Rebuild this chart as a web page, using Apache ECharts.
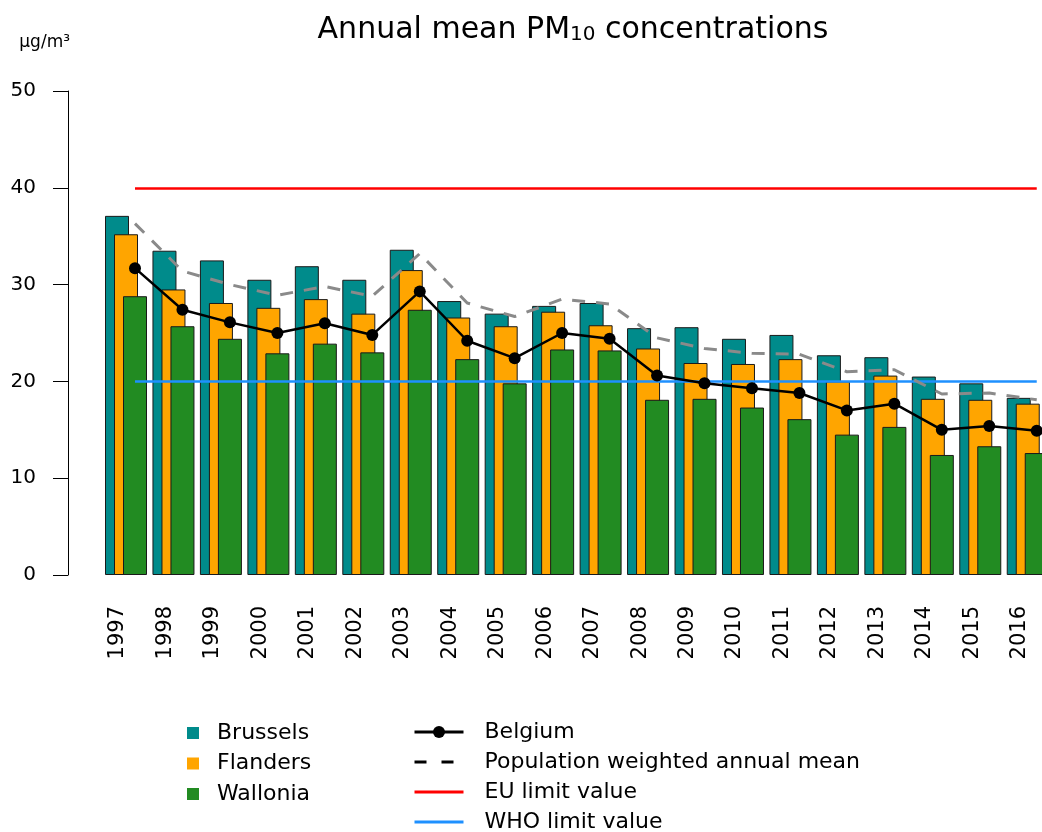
<!DOCTYPE html>
<html>
<head>
<meta charset="utf-8">
<title>Annual mean PM10 concentrations</title>
<script src="https://cdn.jsdelivr.net/npm/echarts@6/dist/echarts.min.js"></script>
<style>
  html, body { margin: 0; padding: 0; background: #fff; }
  #chart { width: 1042px; height: 832px; }
</style>
</head>
<body>
<div id="chart"></div>
<script>
var years = ['1997', '1998', '1999', '2000', '2001', '2002', '2003', '2004', '2005', '2006',
  '2007', '2008', '2009', '2010', '2011', '2012', '2013', '2014', '2015', '2016']
var brussels = [37.1, 33.5, 32.5, 30.5, 31.9, 30.5, 33.6, 28.3, 27.0, 27.8, 28.1, 25.5, 25.6, 24.4, 24.8, 22.7, 22.5, 20.5, 19.8, 18.3]
var flanders = [35.2, 29.5, 28.1, 27.6, 28.5, 27.0, 31.5, 26.6, 25.7, 27.2, 25.8, 23.4, 21.9, 21.8, 22.3, 20.0, 20.6, 18.2, 18.1, 17.7]
var wallonia = [28.8, 25.7, 24.4, 22.9, 23.9, 23.0, 27.4, 22.3, 19.8, 23.3, 23.2, 18.1, 18.2, 17.3, 16.1, 14.5, 15.3, 12.4, 13.3, 12.6]
var belgium = [31.7, 27.4, 26.1, 25.0, 26.0, 24.8, 29.3, 24.2, 22.4, 25.0, 24.4, 20.6, 19.8, 19.3, 18.8, 17.0, 17.7, 15.0, 15.4, 14.9]
var popWeighted = [36.3, 31.4, 30.0, 28.9, 29.8, 28.8, 33.2, 28.1, 26.7, 28.5, 28.0, 24.5, 23.4, 22.9, 22.8, 21.0, 21.2, 18.7, 18.8, 18.1]
var euLimit = 40
var whoLimit = 20
var yTicks = [0, 10, 20, 30, 40, 50]

var FONT = 'DejaVu Sans'
var chart = echarts.init(document.getElementById('chart'))

// three grids of the same size, shifted: labels / bars / lines
var gridTop = 91
var gridHeight = 484
var bandWidth = 47.46
var gridWidth = bandWidth * years.length

function hiddenX(idx) {
  return {
    type: 'category', gridIndex: idx, data: years,
    axisLine: { show: false }, axisTick: { show: false }, axisLabel: { show: false }
  }
}
function hiddenY(idx) {
  return {
    type: 'value', gridIndex: idx, min: yTicks[0], max: yTicks[yTicks.length - 1], interval: 10,
    axisLine: { show: false }, axisTick: { show: false }, axisLabel: { show: false }, splitLine: { show: false }
  }
}

function limitLine(name, value, color) {
  return {
    name: name,
    type: 'line',
    xAxisIndex: 2,
    yAxisIndex: 2,
    data: [],
    symbol: 'none',
    color: color,
    lineStyle: { color: color, width: 2.5 },
    z: 4,
    markLine: {
      silent: true,
      symbol: 'none',
      label: { show: false },
      lineStyle: { color: color, width: 2.5, type: 'solid' },
      data: [[{ coord: [years[0], value] }, { coord: [years[years.length - 1], value] }]]
    }
  }
}

var barBase = {
  type: 'bar',
  xAxisIndex: 1,
  yAxisIndex: 1,
  barWidth: 24,
  barGap: '-62.5%',
  itemStyle: { borderColor: '#1a1a1a', borderWidth: 1 }
}

var noSymbol = { opacity: 0 }

var option = {
  backgroundColor: '#fff',
  animation: false,
  textStyle: { fontFamily: FONT },
  title: {
    text: 'Annual mean PM{sub|10} concentrations',
    left: 568,
    top: 10,
    textAlign: 'center',
    textStyle: {
      fontFamily: FONT, fontSize: 30, fontWeight: 'normal', color: '#000',
      rich: {
        sub: { fontFamily: FONT, fontSize: 20, color: '#000', verticalAlign: 'bottom', padding: [10, 0, 0, 0] }
      }
    }
  },
  legend: [
    {
      data: ['Brussels', 'Flanders', 'Wallonia'],
      orient: 'vertical',
      left: 182,
      top: 716,
      height: 120,
      icon: 'rect',
      itemWidth: 12,
      itemHeight: 12,
      itemGap: 6.5,
      selectedMode: false,
      itemStyle: { borderWidth: 0 },
      textStyle: { fontFamily: FONT, fontSize: 22, color: '#000', lineHeight: 24, padding: [0, 0, 0, 13] }
    },
    {
      data: [
        'Belgium',
        { name: 'Population weighted annual mean', lineStyle: { color: '#000', type: [12, 15] }, itemStyle: noSymbol },
        { name: 'EU limit value', itemStyle: noSymbol },
        { name: 'WHO limit value', itemStyle: noSymbol }
      ],
      orient: 'vertical',
      left: 408,
      top: 715,
      height: 140,
      itemWidth: 49,
      itemHeight: 15,
      itemGap: 6,
      selectedMode: false,
      lineStyle: { width: 3 },
      textStyle: { fontFamily: FONT, fontSize: 22, color: '#000', lineHeight: 24, padding: [0, 0, 0, 16] }
    }
  ],
  grid: [
    { left: 94.27, top: gridTop, width: gridWidth, height: gridHeight, outerBoundsMode: 'none' },
    { left: 102.27, top: gridTop, width: gridWidth, height: gridHeight, outerBoundsMode: 'none' },
    { left: 111.27, top: gridTop, width: gridWidth, height: gridHeight, outerBoundsMode: 'none' }
  ],
  xAxis: [
    {
      type: 'category', gridIndex: 0, data: years,
      axisLine: { show: false },
      axisTick: { show: false },
      axisLabel: { rotate: 90, margin: 31, fontFamily: FONT, fontSize: 21, color: '#000', interval: 0 }
    },
    hiddenX(1),
    hiddenX(2)
  ],
  yAxis: [
    {
      type: 'value', gridIndex: 0, min: yTicks[0], max: yTicks[yTicks.length - 1], interval: 10,
      offset: 26.27,
      name: 'µg/m³',
      nameLocation: 'end',
      nameGap: 48,
      nameTextStyle: { fontFamily: FONT, fontSize: 17, color: '#000', align: 'right', verticalAlign: 'middle', padding: [0, -2, 0, 0] },
      axisLine: { show: true, lineStyle: { color: '#000', width: 1 } },
      axisTick: { show: true, length: 15, lineStyle: { color: '#000', width: 1 } },
      axisLabel: { margin: 32, fontFamily: FONT, fontSize: 20, color: '#000' },
      splitLine: { show: false }
    },
    hiddenY(1),
    hiddenY(2)
  ],
  series: [
    Object.assign({ name: 'Brussels', data: brussels, color: '#008B8B' }, barBase),
    Object.assign({ name: 'Flanders', data: flanders, color: '#FFA500' }, barBase),
    Object.assign({ name: 'Wallonia', data: wallonia, color: '#228B22' }, barBase),
    limitLine('EU limit value', euLimit, '#FF0000'),
    limitLine('WHO limit value', whoLimit, '#1E90FF'),
    {
      name: 'Population weighted annual mean',
      type: 'line',
      xAxisIndex: 2,
      yAxisIndex: 2,
      data: popWeighted,
      symbol: 'none',
      color: '#8a8a8a',
      lineStyle: { color: '#8a8a8a', width: 3, type: [13, 11] },
      z: 5
    },
    {
      name: 'Belgium',
      type: 'line',
      xAxisIndex: 2,
      yAxisIndex: 2,
      data: belgium,
      symbol: 'circle',
      symbolSize: 12,
      color: '#000',
      itemStyle: { color: '#000' },
      lineStyle: { color: '#000', width: 2.5 },
      z: 6
    }
  ]
}
chart.setOption(option)
</script>
</body>
</html>
